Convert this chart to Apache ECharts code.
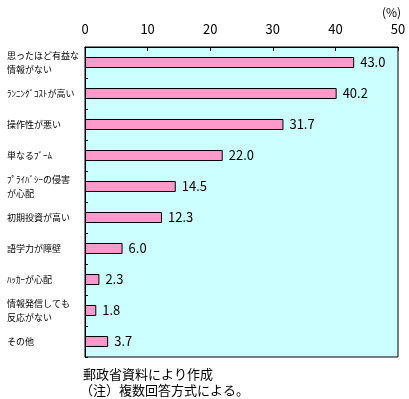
<!DOCTYPE html>
<html>
<head>
<meta charset="utf-8">
<script src="https://cdn.jsdelivr.net/npm/echarts@6/dist/echarts.min.js"></script>
<style>
  html, body { margin: 0; padding: 0; background: #fff; }
  #chart { width: 409px; height: 399px; }
</style>
</head>
<body>
<div id="chart"></div>
<script>
// 項目（上から順）
const categories = [
  '思ったほど有益な\n情報がない',
  'ﾗﾝﾆﾝｸﾞｺｽﾄが高い',
  '操作性が悪い',
  '単なるﾌﾞｰﾑ',
  'ﾌﾟﾗｲﾊﾞｼｰの侵害\nが心配',
  '初期投資が高い',
  '語学力が障壁',
  'ﾊｯｶｰが心配',
  '情報発信しても\n反応がない',
  'その他'
]
// 割合（%）
const values = [43.0, 40.2, 31.7, 22.0, 14.5, 12.3, 6.0, 2.3, 1.8, 3.7]
const xTicks = [0, 10, 20, 30, 40, 50]

const font = '"Noto Sans CJK JP", "Noto Sans", sans-serif'

const option = {
  animation: false,
  backgroundColor: '#fff',
  textStyle: { fontFamily: font },
  grid: {
    left: 85, right: 11, top: 47, bottom: 42,
    show: true,
    backgroundColor: '#CCFFFF',
    borderColor: '#000',
    borderWidth: 1
  },
  xAxis: {
    type: 'value',
    position: 'top',
    min: xTicks[0],
    max: xTicks[xTicks.length - 1],
    interval: 10,
    axisLine: { show: true, lineStyle: { color: '#000' } },
    axisTick: { show: true, inside: true, length: 4, lineStyle: { color: '#000' } },
    axisLabel: { color: '#000', fontSize: 13, margin: 11, fontFamily: font },
    splitLine: { show: false }
  },
  yAxis: {
    type: 'category',
    data: categories,
    inverse: true,
    axisLine: { show: true, lineStyle: { color: '#000' } },
    axisTick: { show: true, inside: true, length: 3, lineStyle: { color: '#000' } },
    axisLabel: {
      color: '#000', fontSize: 9, align: 'left', margin: 78,
      lineHeight: 14, fontFamily: font
    }
  },
  graphic: [
    { type: 'text', left: 382, top: 6, style: { text: '(%)', fill: '#000', font: '12px ' + font } },
    { type: 'text', left: 83, top: 368, style: { text: '郵政省資料により作成', fill: '#000', font: '13px ' + font } },
    { type: 'text', left: 80, top: 384, style: { text: '（注）複数回答方式による。', fill: '#000', font: '13px ' + font } }
  ],
  series: [{
    type: 'bar',
    data: values,
    barWidth: 11,
    itemStyle: { color: '#FF99CC', borderColor: '#000', borderWidth: 1 },
    label: {
      show: true,
      position: 'right',
      distance: 6,
      color: '#000',
      fontSize: 13,
      fontFamily: font,
      formatter: p => p.value.toFixed(1)
    }
  }]
}

const myChart = echarts.init(document.getElementById('chart'))
myChart.setOption(option)
</script>
</body>
</html>
